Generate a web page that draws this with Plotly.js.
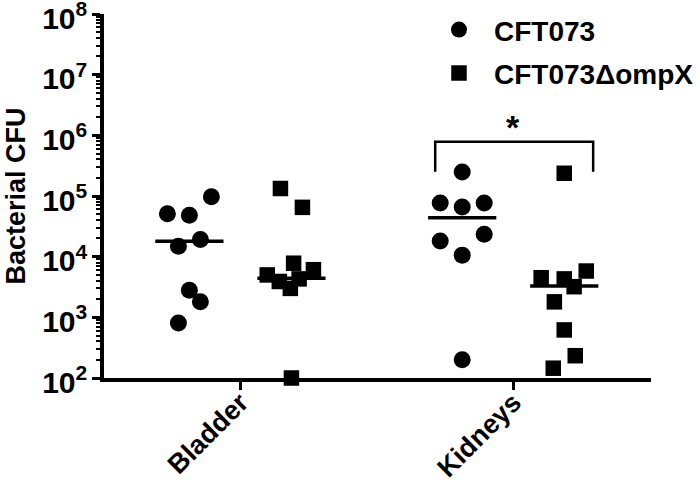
<!DOCTYPE html>
<html>
<head>
<meta charset="utf-8">
<script src="https://cdn.plot.ly/plotly-3.0.1.min.js"></script>
<style>html,body{margin:0;padding:0;background:#fff;}#chart{width:700px;height:483px;}</style>
</head>
<body>
<div id="chart"></div>
<script>
// ---- data ----
const categories = ["Bladder", "Kidneys"];
const seriesNames = ["CFT073", "CFT073\u0394ompX"];

// Bacterial CFU per mouse
const bladderWT   = [9.7e4, 5.1e4, 4.8e4, 1.92e4, 1.49e4, 2.8e3, 1.8e3, 8.1e2];
const bladderMut  = [1.33e5, 6.5e4, 7.8e3, 6.1e3, 5.0e3, 4.3e3, 3.9e3, 3.0e3, 1.0e2];
const kidneyWT    = [2.49e5, 7.7e4, 6.6e4, 7.7e4, 1.82e4, 2.35e4, 1.06e4, 2.0e2];
const kidneyMut   = [2.37e5, 5.8e3, 4.5e3, 4.3e3, 3.2e3, 1.8e3, 6.2e2, 2.33e2, 1.45e2];

// horizontal spread slots of each dot (scatter-plot arrangement)
const bladderWTSlot  = [2, -2, 0, 1, -1, 0, 1, -1];
const bladderMutSlot = [-1, 1, 0.2, 2, -2.2, 0.7, -1.1, -0.1, 0];
const kidneyWTSlot   = [0, -2, 0, 2, -2, 2, 0, 0];
const kidneyMutSlot  = [0, 2, -2.1, 0, 0.9, -0.9, 0, 1, -1];

// median lines
const mediansWT  = [1.8e4, 4.4e4];
const mediansMut = [4.4e3, 3.3e3];

// significance bracket (Kidneys)
const bracketLow = 2.5e5;
const bracketHigh = 7.85e5;
const sigLabel = "*";

// ---- drawing ----
const groupOffset = 0.187;
const slotWidth = 0.0403;
const halfLine = 0.125;
const FONT = "Arial, 'Liberation Sans', Helvetica, sans-serif";

function xs(catIdx, sign, slots) {
  return slots.map(s => catIdx + sign * groupOffset + s * slotWidth);
}

const wtX = xs(0, -1, bladderWTSlot).concat(xs(1, -1, kidneyWTSlot));
const wtY = bladderWT.concat(kidneyWT);
const mutX = xs(0, 1, bladderMutSlot).concat(xs(1, 1, kidneyMutSlot));
const mutY = bladderMut.concat(kidneyMut);

const traces = [
  {x: wtX, y: wtY, type: "scatter", mode: "markers", name: seriesNames[0], legendgroup: "a",
   marker: {symbol: "circle", size: 17, color: "#000", line: {width: 0}}, cliponaxis: false},
  {x: mutX, y: mutY, type: "scatter", mode: "markers", name: seriesNames[1], legendgroup: "b",
   marker: {symbol: "square", size: 15.5, color: "#000", line: {width: 0}}, cliponaxis: false}
];

categories.forEach((c, i) => {
  [[mediansWT, -1], [mediansMut, 1]].forEach(([arr, sign]) => {
    const cx = i + sign * groupOffset;
    traces.push({x: [cx - halfLine, cx + halfLine], y: [arr[i], arr[i]], type: "scatter",
      mode: "lines", line: {color: "#000", width: 3.5}, showlegend: false, hoverinfo: "skip"});
  });
});

// bracket spanning the kidney groups
const kIdx = 1;
const bL = kIdx - groupOffset - 0.099;
const bR = kIdx + groupOffset + 0.106;
traces.push({x: [bL, bL, bR, bR], y: [bracketLow, bracketHigh, bracketHigh, bracketLow],
  type: "scatter", mode: "lines", line: {color: "#000", width: 2.5, shape: "linear"},
  showlegend: false, hoverinfo: "skip"});

const layout = {
  width: 700, height: 483,
  margin: {l: 103.5, r: 49, t: 14, b: 105, autoexpand: false},
  paper_bgcolor: "#fff", plot_bgcolor: "#fff",
  font: {family: FONT, color: "#000", size: 27, weight: 700},
  showlegend: true,
  legend: {x: 0.585, xanchor: "left", y: 1.025, yanchor: "top", bgcolor: "rgba(0,0,0,0)",
    font: {family: FONT, size: 28, weight: 700, color: "#000"}, itemwidth: 60,
    tracegroupgap: 4},
  xaxis: {
    range: [-0.5, 1.505], tickvals: [0, 1], ticktext: categories, tickangle: -45,
    showgrid: false, zeroline: false, showline: true, linecolor: "#000", linewidth: 4,
    ticks: "outside", ticklen: 8, tickwidth: 3, tickcolor: "#000",
    ticklabelstandoff: -14, ticklabeloverflow: "allow",
    tickfont: {family: FONT, size: 27, weight: 700, color: "#000"}
  },
  yaxis: {
    type: "log", range: [2, 8], dtick: 1, exponentformat: "power",
    showgrid: false, zeroline: false, showline: true, linecolor: "#000", linewidth: 4,
    ticks: "outside", ticklen: 8, tickwidth: 3, tickcolor: "#000",
    ticklabeloverflow: "allow", ticklabelshift: 4,
    tickfont: {family: FONT, size: 24, weight: 700, color: "#000"},
    minor: {ticks: "outside", ticklen: 4, tickwidth: 2, tickcolor: "#000", dtick: "D1", showgrid: false},
    title: {text: "Bacterial CFU", font: {family: FONT, size: 27, weight: 700, color: "#000"}, standoff: 10}
  },
  annotations: [{x: kIdx, y: Math.log10(bracketHigh) + 0.24, xref: "x", yref: "y", text: sigLabel,
    showarrow: false, font: {family: FONT, size: 34, weight: 700, color: "#000"}}]
};

Plotly.newPlot("chart", traces, layout, {staticPlot: true, displayModeBar: false});
</script>
</body>
</html>
